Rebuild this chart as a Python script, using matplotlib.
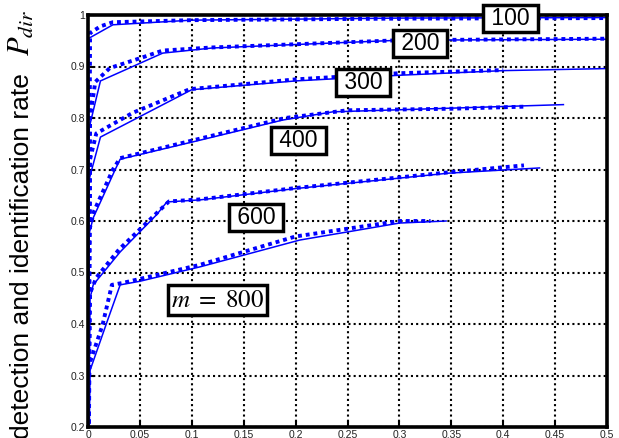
import matplotlib
matplotlib.use('Agg')
from matplotlib import pyplot as plt

plt.rcParams['font.family'] = ['Liberation Sans', 'DejaVu Sans']
plt.rcParams['mathtext.fontset'] = 'stix'

# curve m = 100
x100 = [0, 0.001, 0.024, 0.1, 0.3, 0.5]
y100 = [0, 0.955, 0.981, 0.99, 0.994, 0.995]
x100d = [0, 0.002, 0.012, 0.024, 0.1, 0.3, 0.5]
y100d = [0, 0.965, 0.978, 0.986, 0.99, 0.993, 0.994]

# curve m = 200
x200 = [0, 0.001, 0.012, 0.072, 0.12, 0.3, 0.5]
y200 = [0, 0.78, 0.872, 0.926, 0.936, 0.951, 0.953]
x200d = [0, 0.002, 0.007, 0.021, 0.05, 0.072, 0.12, 0.3, 0.5]
y200d = [0, 0.8, 0.87, 0.897, 0.916, 0.931, 0.937, 0.951, 0.954]

# curve m = 300
x300 = [0, 0.001, 0.012, 0.1, 0.2, 0.3, 0.4, 0.5]
y300 = [0, 0.68, 0.763, 0.855, 0.872, 0.883, 0.892, 0.896]
x300d = [0, 0.002, 0.008, 0.043, 0.098, 0.2, 0.3, 0.4]
y300d = [0, 0.72, 0.77, 0.81, 0.856, 0.875, 0.887, 0.893]

# curve m = 400
x400 = [0, 0.001, 0.005, 0.026, 0.031, 0.108, 0.1875, 0.236, 0.348, 0.458]
y400 = [0, 0.575, 0.606, 0.699, 0.72, 0.757, 0.796, 0.812, 0.819, 0.826]
x400d = [0, 0.001, 0.006, 0.024, 0.031, 0.108, 0.19, 0.25, 0.35, 0.42]
y400d = [0, 0.58, 0.62, 0.70, 0.722, 0.76, 0.80, 0.815, 0.818, 0.822]

# curve m = 600
x600 = [0, 0.002, 0.005, 0.031, 0.066, 0.076, 0.108, 0.2, 0.348, 0.435]
y600 = [0, 0.45, 0.476, 0.54, 0.612, 0.637, 0.641, 0.663, 0.693, 0.703]
x600d = [0, 0.002, 0.008, 0.03, 0.066, 0.078, 0.108, 0.2, 0.35, 0.42]
y600d = [0, 0.46, 0.49, 0.545, 0.615, 0.638, 0.642, 0.664, 0.695, 0.708]

# curve m = 800
x800 = [0, 0.002, 0.019, 0.031, 0.05, 0.108, 0.204, 0.3, 0.345]
y800 = [0, 0.31, 0.408, 0.476, 0.483, 0.511, 0.563, 0.596, 0.6]
x800d = [0, 0.001, 0.014, 0.023, 0.034, 0.108, 0.2, 0.3, 0.33]
y800d = [0, 0.32, 0.398, 0.476, 0.48, 0.515, 0.57, 0.6, 0.6]

xticks = [0, 0.05, 0.1, 0.15, 0.2, 0.25, 0.3, 0.35, 0.4, 0.45, 0.5]
xticklabels = ['0', '0.05', '0.1', '0.15', '0.2', '0.25', '0.3', '0.35', '0.4', '0.45', '0.5']
yticks = [0.2, 0.3, 0.4, 0.5, 0.6, 0.7, 0.8, 0.9, 1.0]
yticklabels = ['0.2', '0.3', '0.4', '0.5', '0.6', '0.7', '0.8', '0.9', '1']

labels = ['100', '200', '300', '400', '600', r'$m\ =\ 800$']
label_x = [0.407, 0.32, 0.265, 0.203, 0.162, 0.125]
label_y = [0.993, 0.945, 0.869, 0.756, 0.607, 0.446]

curves = [(x100, y100, x100d, y100d), (x200, y200, x200d, y200d),
          (x300, y300, x300d, y300d), (x400, y400, x400d, y400d),
          (x600, y600, x600d, y600d), (x800, y800, x800d, y800d)]

fig = plt.figure(figsize=(6.19, 4.38), dpi=100)
ax = fig.add_axes([88 / 619, 11 / 438, 519 / 619, 412 / 438])

for xs, ys, xd, yd in curves:
    ax.plot(xs, ys, color='#0000ff', lw=1.1)
    ax.plot(xd, yd, color='#0000ff', lw=2.8, linestyle=(0, (1, 1)),
            dash_capstyle='butt')

for t, lx, ly in zip(labels, label_x, label_y):
    if t.startswith('$'):
        ax.text(lx, ly, t, fontsize=18, ha='center', va='center',
                bbox=dict(boxstyle='square,pad=0.12', fc='white', ec='black', lw=2.5))
    else:
        ax.text(lx, ly, ' ' + t + ' ', fontsize=16.5, ha='center', va='center',
                bbox=dict(boxstyle='square,pad=0.08', fc='white', ec='black', lw=2.5))

ax.set_xlim(0, 0.5)
ax.set_ylim(0.2, 1)
ax.set_xticks(xticks)
ax.set_xticklabels(xticklabels)
ax.set_yticks(yticks)
ax.set_yticklabels(yticklabels)
ax.tick_params(direction='in', length=4, width=1.5, pad=2, labelsize=7.5,
               labelcolor='#222222', top=False, right=False)
ax.grid(True, color='black', linestyle=(0, (1, 1.5)), linewidth=1.5)
for s in ax.spines.values():
    s.set_linewidth(2.6)

# y label in two parts so the symbol can be a bit larger
fig.text(0.036, 0.415, 'detection and identification rate', fontsize=19,
         rotation=90, ha='center', va='center')
fig.text(0.036, 0.925, r'$P_{dir}$', fontsize=22, rotation=90,
         ha='center', va='center')

fig.savefig('out.png', dpi=100)
